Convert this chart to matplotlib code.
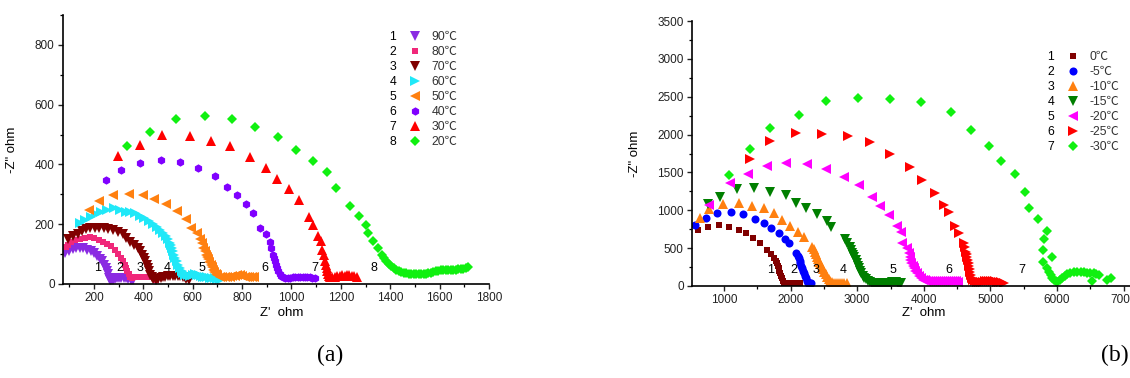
import matplotlib
matplotlib.use("Agg")
import matplotlib.pyplot as plt
from matplotlib.lines import Line2D
from matplotlib.ticker import MultipleLocator

plt.rcParams['font.family'] = ['Liberation Sans', 'Noto Sans CJK SC', 'DejaVu Sans']

# ---- panel (a): 90 .. 20 C ----
a_labels = ['90℃', '80℃', '70℃', '60℃', '50℃', '40℃', '30℃', '20℃']
a_colors = ['#8A2BE2', '#F0287A', '#800000', '#20E8F8', '#FF8010', '#8000FF', '#FF0000', '#10F010']
a_markers = ['v', 's', 'v', '>', '<', 'h', '^', 'D']

a1_x = [83, 100, 114, 128, 143, 158, 173, 188, 201, 213, 224, 234, 243, 249, 254, 258, 262, 266, 270, 278, 285, 293, 300, 310, 320, 330, 340, 350, 360]
a1_y = [104, 111, 116, 119, 121, 119, 115, 110, 103, 95, 85, 76, 65, 54, 43, 32, 20, 14, 12, 15, 18, 19, 20, 20, 20, 19, 18, 15, 12]
a2_x = [87, 97, 107, 125, 143, 163, 184, 202, 219, 237, 255, 270, 285, 298, 311, 318, 325, 331, 336, 342, 348, 354, 360, 370, 380, 390, 400, 410, 420, 430, 440, 450]
a2_y = [123, 131, 139, 146, 152, 155, 157, 154, 148, 142, 135, 126, 115, 101, 87, 76, 65, 54, 43, 32, 22, 20, 22, 24, 25, 25, 25, 25, 25, 24, 22, 15]
a3_x = [96, 115, 134, 151, 168, 186, 204, 222, 240, 258, 277, 296, 316, 332, 348, 362, 377, 387, 396, 403, 409, 415, 420, 425, 429, 434, 440, 450, 460, 470, 480, 490, 500, 510, 520, 530, 540, 550, 560, 568, 575, 585]
a3_y = [152, 160, 168, 176, 184, 187, 188, 189, 188, 184, 179, 173, 166, 154, 141, 131, 121, 110, 98, 87, 76, 65, 54, 43, 31, 22, 18, 15, 16, 20, 23, 25, 26, 27, 27, 27, 27, 26, 25, 22, 18, 12]
a4_x = [143, 165, 187, 207, 228, 254, 281, 305, 330, 348, 367, 385, 404, 422, 440, 454, 468, 480, 491, 500, 509, 514, 517, 521, 525, 530, 535, 541, 548, 555, 562, 570, 580, 590, 600, 610, 618, 625, 632, 640, 650, 660, 670, 680, 690, 700, 710, 720]
a4_y = [204, 214, 224, 233, 242, 248, 253, 248, 242, 240, 237, 229, 220, 211, 201, 190, 179, 171, 162, 150, 138, 129, 121, 110, 98, 87, 76, 65, 54, 45, 37, 30, 29, 28, 30, 33, 31, 30, 28, 25, 23, 22, 21, 20, 19, 18, 18, 17]
a5_x = [180, 222, 278, 343, 400, 444, 494, 536, 572, 595, 618, 630, 636, 642, 648, 653, 658, 663, 668, 674, 679, 683, 688, 694, 700, 710, 720, 730, 740, 750, 760, 770, 780, 790, 800, 810, 820, 830, 840, 850]
a5_y = [247, 278, 297, 302, 298, 284, 267, 244, 216, 188, 171, 150, 138, 121, 110, 98, 90, 82, 73, 65, 56, 48, 41, 34, 29, 25, 23, 22, 23, 25, 27, 28, 30, 30, 28, 25, 23, 22, 22, 22]
a6_x = [249, 311, 388, 471, 548, 621, 690, 738, 779, 815, 845, 873, 895, 914, 919, 926, 930, 934, 938, 943, 947, 952, 958, 965, 975, 985, 995, 1005, 1015, 1025, 1035, 1045, 1055, 1065, 1075, 1085, 1095]
a6_y = [347, 383, 405, 416, 407, 387, 360, 325, 298, 266, 236, 189, 166, 140, 119, 98, 87, 76, 65, 54, 44, 35, 28, 22, 20, 20, 21, 22, 23, 24, 25, 25, 24, 23, 22, 21, 20]
a7_x = [298, 388, 477, 590, 675, 752, 833, 895, 942, 989, 1030, 1070, 1089, 1109, 1119, 1125, 1131, 1136, 1139, 1142, 1145, 1148, 1152, 1158, 1165, 1175, 1185, 1195, 1205, 1215, 1225, 1235, 1245, 1255, 1265]
a7_y = [429, 464, 500, 495, 480, 461, 425, 388, 350, 319, 281, 225, 199, 160, 143, 115, 98, 76, 65, 54, 44, 35, 28, 24, 23, 25, 27, 28, 29, 28, 30, 29, 28, 26, 24]
a8_x = [336, 428, 531, 649, 760, 853, 945, 1019, 1089, 1143, 1182, 1239, 1273, 1302, 1312, 1332, 1351, 1367, 1376, 1384, 1394, 1405, 1415, 1425, 1435, 1445, 1455, 1465, 1475, 1485, 1495, 1505, 1515, 1525, 1535, 1545, 1555, 1565, 1575, 1585, 1595, 1605, 1615, 1625, 1635, 1645, 1655, 1665, 1675, 1685, 1695, 1705, 1715]
a8_y = [462, 507, 552, 562, 552, 526, 491, 450, 411, 375, 322, 261, 229, 198, 169, 143, 121, 98, 87, 76, 67, 59, 53, 48, 44, 41, 38, 36, 35, 34, 33, 33, 32, 32, 33, 34, 36, 38, 40, 42, 44, 46, 47, 47, 46, 46, 47, 48, 49, 50, 51, 53, 57]
a_xs = [a1_x, a2_x, a3_x, a4_x, a5_x, a6_x, a7_x, a8_x]
a_ys = [a1_y, a2_y, a3_y, a4_y, a5_y, a6_y, a7_y, a8_y]
a_num_x = [215, 305, 386, 497, 636, 892, 1096, 1333]
a_num_y = 54

# ---- panel (b): 0 .. -30 C ----
b_labels = ['0℃', '-5℃', '-10℃', '-15℃', '-20℃', '-25℃', '-30℃']
b_colors = ['#800000', '#0000FF', '#FF8010', '#007F00', '#FF00FF', '#FF0000', '#10F010']
b_markers = ['s', 'o', '^', 'v', '<', '>', 'D']

b1_x = [607, 754, 918, 1071, 1219, 1328, 1437, 1535, 1639, 1700, 1754, 1775, 1792, 1805, 1819, 1833, 1847, 1860, 1874, 1888, 1901, 1930, 1960, 1990, 2020, 2050, 2080, 2110, 2140]
b1_y = [740, 784, 806, 784, 740, 696, 638, 564, 476, 420, 365, 330, 299, 266, 233, 200, 167, 134, 101, 72, 44, 40, 40, 40, 40, 40, 41, 42, 40]
b2_x = [563, 727, 902, 1109, 1290, 1464, 1601, 1710, 1819, 1912, 1983, 2082, 2105, 2120, 2134, 2147, 2161, 2175, 2188, 2202, 2215, 2229, 2243, 2256, 2270, 2285, 2300]
b2_y = [806, 894, 960, 973, 947, 889, 837, 771, 704, 616, 564, 440, 400, 365, 332, 299, 266, 233, 200, 167, 134, 101, 72, 44, 35, 38, 40]
b3_x = [634, 781, 989, 1229, 1426, 1601, 1748, 1874, 1994, 2104, 2202, 2322, 2345, 2366, 2380, 2393, 2412, 2431, 2448, 2464, 2483, 2502, 2524, 2546, 2570, 2595, 2625, 2655, 2685, 2715, 2745, 2775, 2805, 2840]
b3_y = [894, 1013, 1079, 1101, 1057, 1026, 969, 872, 793, 709, 652, 520, 487, 454, 420, 387, 354, 321, 288, 255, 222, 189, 156, 123, 95, 70, 50, 42, 40, 41, 42, 44, 45, 40]
b4_x = [754, 945, 1191, 1453, 1694, 1929, 2076, 2235, 2393, 2541, 2612, 2819, 2852, 2885, 2906, 2928, 2942, 2956, 2975, 2994, 3008, 3021, 3040, 3060, 3080, 3103, 3130, 3158, 3185, 3215, 3245, 3275, 3305, 3335, 3365, 3395, 3425, 3455, 3485, 3515, 3545, 3575, 3605, 3635, 3660]
b4_y = [1079, 1180, 1286, 1290, 1246, 1206, 1101, 1035, 955, 854, 784, 616, 568, 520, 480, 440, 410, 379, 339, 299, 266, 233, 200, 167, 138, 110, 88, 66, 52, 42, 36, 35, 36, 38, 41, 44, 45, 45, 46, 47, 48, 47, 45, 42, 40]
b5_x = [771, 1087, 1355, 1639, 1929, 2246, 2530, 2803, 3021, 3223, 3349, 3475, 3595, 3650, 3677, 3748, 3770, 3786, 3797, 3812, 3830, 3848, 3868, 3895, 3923, 3950, 3980, 4010, 4040, 4070, 4100, 4130, 4160, 4190, 4220, 4250, 4280, 4310, 4340, 4370, 4400, 4430, 4460, 4490, 4510]
b5_y = [1066, 1356, 1484, 1585, 1629, 1607, 1545, 1440, 1330, 1176, 1057, 938, 797, 709, 572, 498, 440, 387, 340, 299, 266, 233, 200, 167, 134, 101, 85, 76, 72, 70, 68, 68, 69, 70, 70, 70, 70, 71, 72, 71, 70, 68, 66, 62, 55]
b6_x = [1393, 1694, 2082, 2475, 2857, 3191, 3497, 3786, 3966, 4169, 4305, 4371, 4469, 4535, 4606, 4620, 4633, 4641, 4649, 4660, 4671, 4680, 4688, 4696, 4704, 4722, 4742, 4770, 4800, 4830, 4860, 4890, 4920, 4950, 4980, 5010, 5040, 5070, 5100, 5130, 5160, 5200]
b6_y = [1678, 1920, 2017, 2008, 1977, 1898, 1744, 1567, 1400, 1224, 1070, 982, 797, 704, 572, 513, 454, 420, 387, 343, 299, 260, 220, 183, 145, 110, 79, 62, 52, 52, 55, 58, 60, 62, 64, 65, 64, 62, 58, 54, 50, 45]
b7_x = [1071, 1393, 1694, 2125, 2530, 3005, 3491, 3950, 4414, 4715, 4977, 5152, 5370, 5518, 5583, 5720, 5853, 5808, 5787, 5918, 5793, 5853, 5880, 5903, 5925, 5952, 5978, 6003, 6040, 6078, 6115, 6153, 6200, 6253, 6300, 6353, 6400, 6454, 6500, 6553, 6590, 6628, 6529, 6754, 6814]
b7_y = [1466, 1810, 2087, 2254, 2448, 2483, 2474, 2426, 2298, 2065, 1849, 1651, 1484, 1246, 1035, 881, 731, 617, 476, 387, 321, 233, 190, 145, 110, 79, 65, 57, 75, 101, 130, 158, 175, 189, 190, 189, 182, 176, 172, 167, 158, 145, 66, 79, 110]
b_xs = [b1_x, b2_x, b3_x, b4_x, b5_x, b6_x, b7_x]
b_ys = [b1_y, b2_y, b3_y, b4_y, b5_y, b6_y, b7_y]
b_num_x = [1699, 2049, 2377, 2792, 3540, 4371, 5469]
b_num_y = 211

msizes = {'v': 6.5, '^': 6.5, '<': 6.5, '>': 6.5, 's': 4.8, 'D': 5, 'h': 6, 'o': 5.8}

fig = plt.figure(figsize=(11.3, 3.78), dpi=100)
W, H = 1130, 378
ax1 = fig.add_axes([63 / W, 1 - 284 / H, (489 - 63) / W, (284 - 15) / H])
ax2 = fig.add_axes([692 / W, 1 - 286 / H, (1157 - 692) / W, (286 - 21) / H])


def style(ax, xmaj, xmin, ymaj, ymin):
    for s in ['top', 'right']:
        ax.spines[s].set_visible(False)
    for s in ['left', 'bottom']:
        ax.spines[s].set_linewidth(1.2)
    ax.xaxis.set_major_locator(MultipleLocator(xmaj))
    ax.xaxis.set_minor_locator(MultipleLocator(xmin))
    ax.yaxis.set_major_locator(MultipleLocator(ymaj))
    ax.yaxis.set_minor_locator(MultipleLocator(ymin))
    ax.tick_params(which='major', direction='out', length=3.5, width=1, labelsize=8.5,
                   colors='#222222', pad=2.5)
    ax.tick_params(which='minor', direction='out', length=2.2, width=0.9)


def draw(ax, xs, ys, labels, colors, markers, nx, ny, lx, ly):
    handles = []
    for x, y, lab, c, m in zip(xs, ys, labels, colors, markers):
        h, = ax.plot(x, y, linestyle='none', marker=m, color=c, ms=msizes[m],
                     markeredgewidth=0, label=lab)
        handles.append(h)
    for i, x in enumerate(nx):
        ax.text(x, ny, str(i + 1), ha='center', va='center', fontsize=9)
    dummies = [Line2D([], [], linestyle='none') for _ in labels]
    nums = [str(i + 1) for i in range(len(labels))]
    leg = ax.legend(dummies + handles, nums + labels, ncol=2, frameon=False,
                    loc='upper left', bbox_to_anchor=(lx, ly), borderpad=0,
                    borderaxespad=0, fontsize=8.8, handlelength=1.2,
                    handletextpad=0.8, columnspacing=0.9, labelspacing=0.25)
    for t in leg.get_texts()[len(labels):]:
        t.set_color('#333333')


ax1.set_xlim(75, 1800)
ax1.set_ylim(0, 900)
style(ax1, 200, 100, 200, 100)
draw(ax1, a_xs, a_ys, a_labels, a_colors, a_markers, a_num_x, a_num_y,
     (365 - 63) / 426, (284 - 31) / 269)
ax1.set_xlabel("Z'  ohm", fontsize=9.5)
ax1.set_ylabel('-Z" ohm', fontsize=9.5)
ax1.xaxis.set_label_coords(0.514, -0.086)
ax1.yaxis.set_label_coords(-0.106, 0.498)

ax2.set_xlim(520, 7500)
ax2.set_ylim(0, 3500)
style(ax2, 1000, 500, 500, 250)
draw(ax2, b_xs, b_ys, b_labels, b_colors, b_markers, b_num_x, b_num_y,
     (1023 - 692) / 465, (286 - 51) / 265)
ax2.set_xlabel("Z'  ohm", fontsize=9.5)
ax2.set_ylabel('-Z" ohm', fontsize=9.5)
ax2.xaxis.set_label_coords(0.499, -0.079)
ax2.yaxis.set_label_coords(-0.11, 0.50)

fig.text(330 / W, 1 - 355 / H, '(a)', ha='center', va='center', fontsize=17,
         family=['Liberation Serif', 'DejaVu Serif'])
fig.text(1101 / W, 1 - 355 / H, '(b)', ha='left', va='center', fontsize=17,
         family=['Liberation Serif', 'DejaVu Serif'])

fig.savefig('out.png', dpi=100)
